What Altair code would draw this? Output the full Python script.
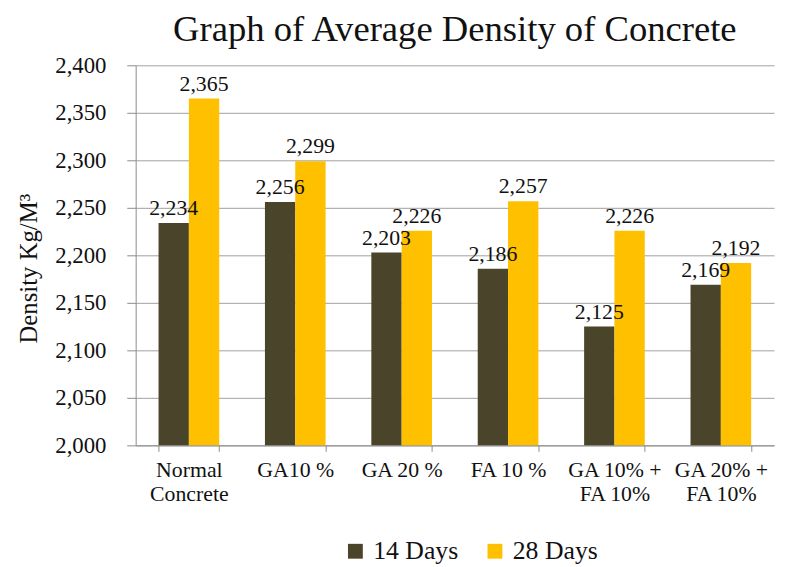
import altair as alt
import pandas as pd

categories = ["Normal|Concrete", "GA10 %", "GA 20 %", "FA 10 %", "GA 10% +|FA 10%", "GA 20% +|FA 10%"]
series = ["14 Days", "28 Days"]
days14 = [2234, 2256, 2203, 2186, 2125, 2169]
days28 = [2365, 2299, 2226, 2257, 2226, 2192]
colors = ["#4A442A", "#FFC000"]

rows = []
for c, a, b in zip(categories, days14, days28):
    rows.append({"cat": c, "series": "14 Days", "value": a})
    rows.append({"cat": c, "series": "28 Days", "value": b})
df = pd.DataFrame(rows)

FONT = "Liberation Serif"

x = alt.X("cat:N", sort=categories, title=None,
          scale=alt.Scale(paddingInner=0.43, paddingOuter=0.215),
          axis=alt.Axis(labelExpr="split(datum.label, '|')", labelAngle=0,
                        labelFont=FONT, labelFontSize=22, labelColor="#111",
                        labelPadding=8, labelLineHeight=25, tickBand="extent",
                        tickSize=6, tickColor="#8c8c8c", domainColor="#8c8c8c",
                        labelBaseline="top", grid=False))
xo = alt.XOffset("series:N", sort=series)
y = alt.Y("value:Q", title="Density Kg/M³",
          scale=alt.Scale(domain=[2000, 2400], zero=False, nice=False),
          axis=alt.Axis(values=list(range(2000, 2401, 50)), format=",.0f",
                        labelFont=FONT, labelFontSize=23, labelColor="#111",
                        labelPadding=21, tickSize=9, tickColor="#8c8c8c",
                        domainColor="#8c8c8c", gridColor="#a0a0a0",
                        titleFont=FONT, titleFontSize=25, titleFontWeight="normal",
                        titleColor="#111", titleX=-108, titleY=205, titleAngle=270,
                        titleAlign="center", titleBaseline="middle"))

base = alt.Chart(df).encode(x=x, xOffset=xo, y=y)

bars = base.mark_bar(clip=True).encode(
    color=alt.Color("series:N", sort=series,
                    scale=alt.Scale(domain=series, range=colors),
                    legend=alt.Legend(title=None, orient="none", direction="horizontal",
                                      legendX=209, legendY=478, symbolType="square",
                                      symbolSize=225, symbolStrokeWidth=0,
                                      labelFont=FONT, labelFontSize=26, labelColor="#111",
                                      labelOffset=5, columnPadding=24)),
)

text = base.mark_text(baseline="bottom", dy=-3, font=FONT, fontSize=22, color="#111").encode(
    text=alt.Text("value:Q", format=","),
)

chart = (bars + text).properties(
    width=645, height=384,
    title=alt.TitleParams("Graph of Average Density of Concrete", font=FONT, fontSize=37,
                          fontWeight="normal", color="#111", offset=6),
    autosize=alt.AutoSizeParams(type="none"),
    padding={"left": 129, "top": 55, "right": 4, "bottom": 119},
).configure_view(stroke=None).configure_axis(
    labelFont=FONT, titleFont=FONT
).configure_legend(labelFont=FONT).configure_text(font=FONT).configure_title(font=FONT)

chart.save("out.html", embed_options={"renderer": "svg", "actions": False})
